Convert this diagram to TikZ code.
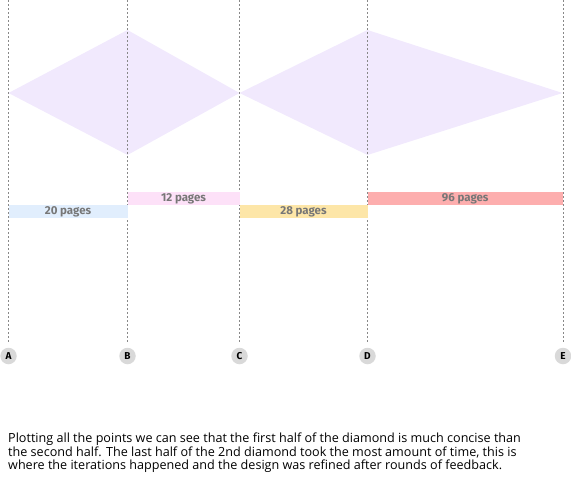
\documentclass[tikz,border=0pt]{standalone}
\usepackage{fontspec}
\setmainfont{Open Sans}
\newfontfamily\labfont{Fira Sans}
\newfontfamily\parfont{Open Sans}
\definecolor{dia}{HTML}{F1E9FD}
\definecolor{cblue}{HTML}{E1EEFD}
\definecolor{cpink}{HTML}{FDE1F8}
\definecolor{cyellow}{HTML}{FDE6A8}
\definecolor{cred}{HTML}{FDAEAE}
\definecolor{labgray}{HTML}{777777}
\definecolor{linegray}{HTML}{888888}
\definecolor{circgray}{HTML}{D9D9D9}
\begin{document}
\begin{tikzpicture}[x=1pt,y=-1pt,
  guide/.style={draw=linegray,line width=0.8pt,dash pattern=on 2pt off 2pt},
  bar/.style={inner sep=0pt,minimum height=13pt,font=\labfont\bfseries\fontsize{11.5}{12}\selectfont,text=labgray},
  milestone/.style={circle,fill=circgray,inner sep=0pt,minimum size=16.5pt,font=\labfont\bfseries\fontsize{10}{11}\selectfont},
  para/.style={anchor=base west,inner sep=0pt,font=\parfont\fontsize{12.6}{13.5}\selectfont}]
\useasboundingbox (0,0) rectangle (571,477);
% diamonds
\fill[dia] (8.5,93) -- (127.5,30) -- (239.5,93) -- (127.5,155) -- cycle;
\fill[dia] (239.5,93) -- (367.5,30) -- (562.5,93) -- (367.5,155) -- cycle;
% guide lines
\foreach \n/\x in {A/8.5,B/127.5,C/239.5,D/367.5,E/563} {
  \coordinate (top\n) at (\x,0);
  \coordinate (bot\n) at (\x,342);
  \draw[guide] (top\n) -- (bot\n);
  \node[milestone] (m\n) at (\x,356) {\n};
}
% bars
\node[bar,fill=cblue,minimum width=119pt] (b1) at (68,211.5) {20 pages};
\node[bar,fill=cpink,minimum width=112pt] (b2) at (183.5,198.5) {12 pages};
\node[bar,fill=cyellow,minimum width=128pt] (b3) at (303.5,211.5) {28 pages};
\node[bar,fill=cred,minimum width=195.5pt] (b4) at (465.25,198.5) {96 pages};
% paragraph
\node[para] (p1) at (8,442.5) {Plotting all the points we can see that the first half of the diamond is much concise than};
\node[para] (p2) at (8,456) {the second half. The last half of the 2nd diamond took the most amount of time, this is};
\node[para] (p3) at (8,469.5) {where the iterations happened and the design was refined after rounds of feedback.};
\end{tikzpicture}
\end{document}
